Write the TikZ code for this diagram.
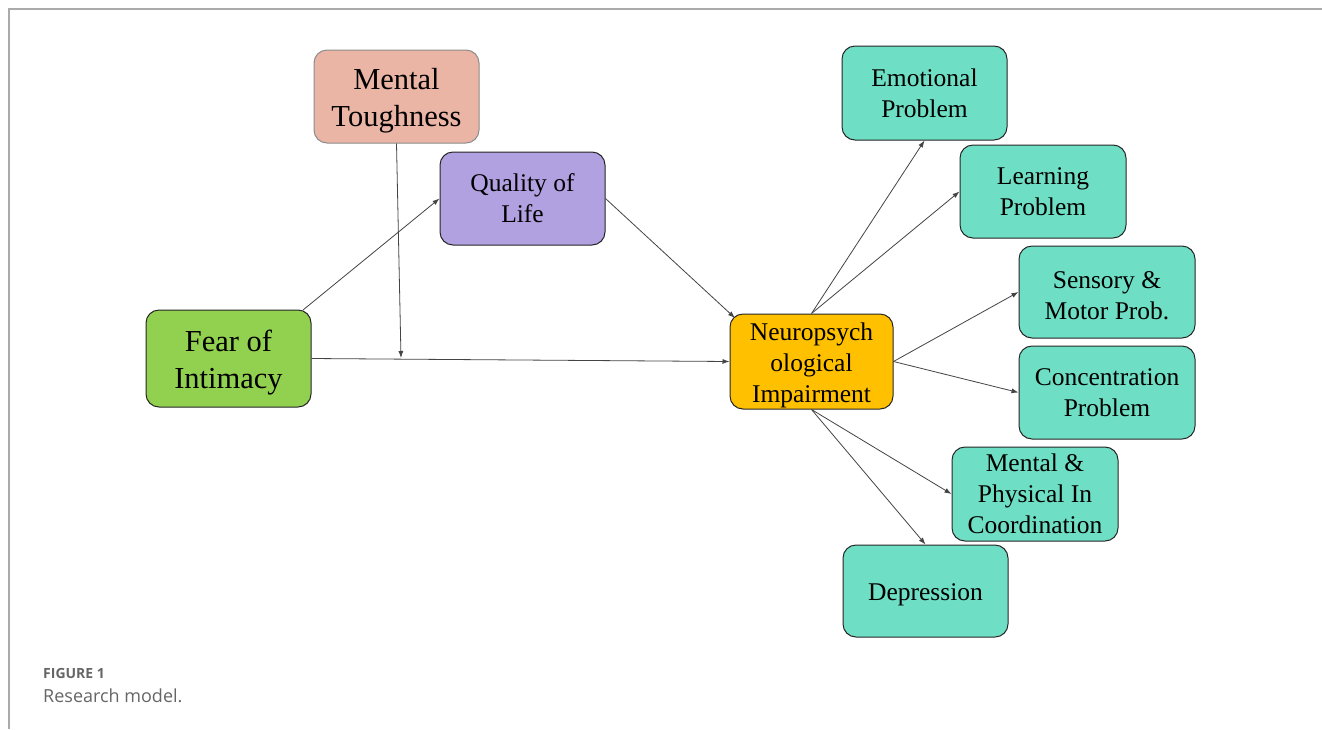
\documentclass[tikz,border=0pt]{standalone}
\usepackage{fontspec}
\setmainfont{Liberation Serif}
\newfontfamily\capfont{Open Sans}
\usetikzlibrary{arrows.meta}
\definecolor{salmon}{HTML}{EBB5A6}
\definecolor{lilac}{HTML}{B1A1E0}
\definecolor{lgreen}{HTML}{92D050}
\definecolor{amber}{HTML}{FFC000}
\definecolor{teal}{HTML}{6EDFC4}
\definecolor{edgegray}{HTML}{444444}
\definecolor{framegray}{HTML}{AAAAAA}
\definecolor{capgray}{HTML}{666666}
\newcommand\upbig{\rule{0pt}{30pt}}
\newcommand\upmed{\rule{0pt}{24.5pt}}
\begin{document}
\begin{tikzpicture}[x=1pt,y=-1pt,
  box/.style={draw=black!85,line width=1pt,rounded corners=13pt,inner sep=0pt,align=center},
  big/.style={font=\fontsize{30.5}{37}\selectfont},
  med/.style={font=\fontsize{25.5}{31}\selectfont},
  conn/.style={draw=edgegray,line width=0.8pt,-{Latex[length=7pt,width=5pt]}}]
\useasboundingbox (0,0) rectangle (1322,729);
\fill[white] (0,0) rectangle (1322,729);
\draw[framegray,line width=1.3pt] (9,729) -- (9,9) -- (1322,9);
% nodes
\node[box,big,fill=salmon,draw=black!45,minimum width=165pt,minimum height=93pt] (mt) at (396.5,96.5) {\upbig Mental\\Toughness};
\node[box,med,fill=lilac,minimum width=165pt,minimum height=93pt] (ql) at (522.5,198.5) {Quality of\\Life};
\node[box,big,fill=lgreen,minimum width=165pt,minimum height=97pt] (fi) at (228.5,358.5) {\upbig Fear of\\Intimacy};
\node[box,med,fill=amber,minimum width=163pt,minimum height=95pt] (np) at (811.5,361.5) {\upmed Neuropsych\\ological\\Impairment};
\node[box,med,fill=teal,minimum width=165pt,minimum height=94pt] (ep) at (924.5,93) {Emotional\\Problem};
\node[box,med,fill=teal,minimum width=166pt,minimum height=93pt] (lp) at (1043,191.5) {Learning\\Problem};
\node[box,med,fill=teal,minimum width=176pt,minimum height=92pt] (sm) at (1107,292) {\upmed Sensory \&\\Motor Prob.};
\node[box,med,fill=teal,minimum width=176pt,minimum height=93pt] (cp) at (1107,392.5) {Concentration\\Problem};
\node[box,med,fill=teal,minimum width=166pt,minimum height=94pt] (mp) at (1035,494) {Mental \&\\Physical In\\Coordination};
\node[box,med,fill=teal,minimum width=165pt,minimum height=92pt] (dp) at (925.5,591) {\upmed Depression};
% caption
\node[anchor=base west,inner sep=0pt,text=capgray,font=\capfont\bfseries\fontsize{14}{16}\selectfont] (cap1) at (43,678) {FIGURE 1};
\node[anchor=base west,inner sep=0pt,text=capgray,font=\capfont\fontsize{18}{20}\selectfont] (cap2) at (43,702) {Research model.};
% connectors
\coordinate (mod) at (401,358);
\draw[conn] (303,310) -- (ql.west);
\draw[conn] (fi.east) -- (np.west);
\draw[conn] (mt.south) -- (mod);
\draw[conn] (ql.east) -- (735,318);
\draw[conn] (np.north) -- (ep.south);
\draw[conn] (np.north) -- (lp.west);
\draw[conn] (np.east) -- (sm.west);
\draw[conn] (np.east) -- (cp.west);
\draw[conn] (np.south) -- (mp.west);
\draw[conn] (np.south) -- (dp.north);
\end{tikzpicture}
\end{document}
